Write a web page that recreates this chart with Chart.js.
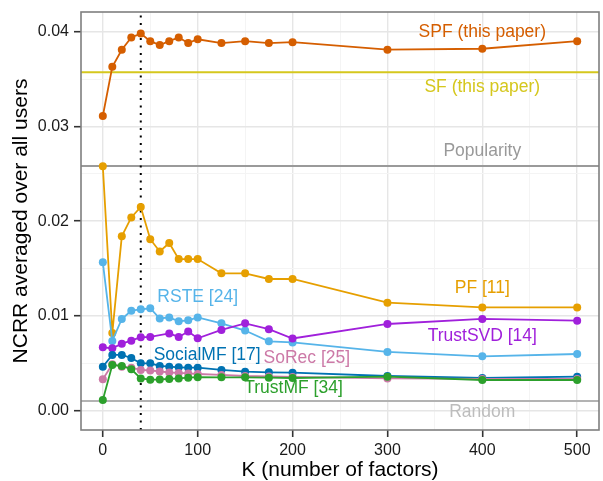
<!DOCTYPE html>
<html>
<head>
<meta charset="utf-8">
<script src="https://cdn.jsdelivr.net/npm/chart.js@4.4.0/dist/chart.umd.min.js"></script>
<style>
  html, body { margin: 0; padding: 0; background: #fff; }
  #wrap { width: 603px; height: 481px; }
</style>
</head>
<body>
<div id="wrap"><canvas id="ncrr-chart"></canvas></div>
<script>
// number of factors K
const kValues = [0, 10, 20, 30, 40, 50, 60, 70, 80, 90, 100, 125, 150, 175, 200, 300, 400, 500];

// NCRR averaged over all users, per method
const spf = [0.0311, 0.0363, 0.0381, 0.0394, 0.0398, 0.0390, 0.0386, 0.0390, 0.0394, 0.0388, 0.0392, 0.0388, 0.0390, 0.0388, 0.0389, 0.0381, 0.0382, 0.0390];
const pf = [0.0258, 0.0082, 0.0184, 0.0204, 0.0215, 0.0181, 0.0168, 0.0177, 0.0160, 0.0160, 0.0160, 0.0145, 0.0145, 0.0139, 0.0139, 0.0114, 0.0109, 0.0109];
const rste = [0.01566, 0.00736, 0.00968, 0.01055, 0.0107, 0.01081, 0.00973, 0.00984, 0.00944, 0.00954, 0.00984, 0.00922, 0.00846, 0.00732, 0.0072, 0.0062, 0.00574, 0.00598];
const trustSvd = [0.00669, 0.00659, 0.00707, 0.00739, 0.00775, 0.00778, null, 0.00815, 0.00778, 0.00836, 0.00764, 0.00852, 0.00922, 0.0086, 0.00762, 0.00915, 0.00968, 0.0095];
const socialMf = [0.00464, 0.00588, 0.00588, 0.00556, 0.005, 0.005, 0.00472, 0.00464, 0.00458, 0.00454, 0.00454, 0.0043, 0.00412, 0.00405, 0.00401, 0.00366, 0.00345, 0.00359];
const soRec = [0.00331, 0.0049, 0.00464, 0.00454, 0.0043, 0.00424, 0.00414, 0.00403, 0.00398, 0.00393, 0.00387, 0.00377, 0.00366, 0.00361, 0.00356, 0.0034, 0.00335, 0.00335];
const trustMf = [0.00113, 0.00482, 0.00472, 0.00437, 0.0034, 0.00327, 0.00329, 0.00335, 0.0034, 0.00348, 0.00354, 0.00352, 0.00352, 0.00348, 0.00345, 0.00359, 0.00324, 0.00324];

// flat baselines (no K dependence)
const sfLevel = 0.03572;
const popularityLevel = 0.02583;
const randomLevel = 0.00102;
const chosenK = 40;

// axis ticks
const xTicks = [0, 100, 200, 300, 400, 500];
const xTickLabels = ['0', '100', '200', '300', '400', '500'];
const yTicks = [0, 0.01, 0.02, 0.03, 0.04];
const yTickLabels = ['0.00', '0.01', '0.02', '0.03', '0.04'];

// text next to each line (K, value)
const lineLabels = [
  { text: 'SPF (this paper)', k: 400, value: 0.0400, color: '#d55e00' },
  { text: 'SF (this paper)', k: 400, value: 0.0341, color: '#d5c71d' },
  { text: 'Popularity', k: 400, value: 0.0274, color: '#999999' },
  { text: 'PF [11]', k: 400, value: 0.0129, color: '#e69f00' },
  { text: 'TrustSVD [14]', k: 400, value: 0.0079, color: '#a020db' },
  { text: 'RSTE [24]', k: 100, value: 0.0120, color: '#56b4e9' },
  { text: 'SocialMF [17]', k: 110, value: 0.0059, color: '#0072b2' },
  { text: 'SoRec [25]', k: 215, value: 0.0055, color: '#cc79a7' },
  { text: 'TrustMF [34]', k: 201, value: 0.0024, color: '#2ca02c' },
  { text: 'Random', k: 400, value: -0.0002, color: '#bdbdbd' },
];

const xMin = -23, xMax = 523;
const yMin = -0.00204, yMax = 0.04208;
const FONT = '"Liberation Sans", Arial, Helvetica, sans-serif';

function points(values) {
  return kValues.map((k, i) => ({ x: k, y: values[i] }));
}

function flat(level) {
  return [{ x: xMin, y: level }, { x: xMax, y: level }];
}

function withMinor(major) {
  const out = [];
  major.forEach((v, i) => {
    out.push({ value: v, minor: false });
    if (i < major.length - 1) out.push({ value: (v + major[i + 1]) / 2, minor: true });
  });
  return out;
}

function tickLabel(value, ticks, labels) {
  const i = ticks.findIndex((t) => Math.abs(t - value) < 1e-9);
  return i >= 0 ? labels[i] : '';
}

function series(label, values, color, order) {
  return {
    label: label,
    data: points(values),
    borderColor: color,
    backgroundColor: color,
    borderWidth: 1.8,
    pointRadius: 4,
    pointBorderWidth: 0,
    spanGaps: true,
    order: order,
  };
}

function refLine(label, level, color, order) {
  return {
    label: label,
    data: flat(level),
    borderColor: color,
    borderWidth: 2,
    pointRadius: 0,
    order: order,
  };
}

const gridOptions = {
  color: (c) => (c.tick && c.tick.minor ? '#f4f4f4' : '#e6e6e6'),
  lineWidth: (c) => (c.tick && c.tick.minor ? 1 : 1.4),
  tickColor: (c) => (c.tick && c.tick.minor ? 'rgba(0,0,0,0)' : '#333333'),
  tickWidth: 1.6,
  tickLength: 7,
};

const panelPlugin = {
  id: 'panel',
  afterDatasetsDraw(chart) {
    const { ctx, chartArea: a, scales } = chart;
    ctx.save();
    ctx.font = '17.5px ' + FONT;
    ctx.textAlign = 'center';
    ctx.textBaseline = 'middle';
    lineLabels.forEach((l) => {
      ctx.fillStyle = l.color;
      ctx.fillText(l.text, scales.x.getPixelForValue(l.k), scales.y.getPixelForValue(l.value));
    });
    ctx.strokeStyle = '#7f7f7f';
    ctx.lineWidth = 1.6;
    ctx.strokeRect(a.left, a.top, a.width, a.height);
    ctx.restore();
  },
};

const canvas = document.getElementById('ncrr-chart');
new Chart(canvas.getContext('2d'), {
  type: 'line',
  data: {
    datasets: [
      series('TrustMF [34]', trustMf, '#2ca02c', 0),
      series('SoRec [25]', soRec, '#cc79a7', 1),
      series('SocialMF [17]', socialMf, '#0072b2', 2),
      series('TrustSVD [14]', trustSvd, '#a020db', 3),
      series('RSTE [24]', rste, '#56b4e9', 4),
      series('PF [11]', pf, '#e69f00', 5),
      series('SPF (this paper)', spf, '#d55e00', 6),
      {
        label: 'K chosen',
        data: [{ x: chosenK, y: yMin }, { x: chosenK, y: yMax }],
        borderColor: '#000000',
        borderWidth: 2,
        borderDash: [2, 5.5],
        pointRadius: 0,
        order: 7,
      },
      refLine('SF (this paper)', sfLevel, '#d5c71d', 8),
      refLine('Popularity', popularityLevel, '#9a9a9a', 9),
      refLine('Random', randomLevel, '#b3b3b3', 10),
    ],
  },
  options: {
    responsive: true,
    maintainAspectRatio: false,
    animation: false,
    layout: { padding: { top: 12, left: 0, right: 0, bottom: 0 } },
    plugins: { legend: { display: false }, tooltip: { enabled: false } },
    scales: {
      x: {
        type: 'linear',
        min: xMin,
        max: xMax,
        afterBuildTicks: (scale) => { scale.ticks = withMinor(xTicks); },
        afterFit: (scale) => {
          scale.height = 51;
          scale.paddingLeft = 0;
          scale.paddingRight = 0;
        },
        ticks: {
          autoSkip: false,
          maxRotation: 0,
          padding: 4,
          color: '#1a1a1a',
          font: { family: FONT, size: 16 },
          callback: (v) => tickLabel(v, xTicks, xTickLabels),
        },
        grid: gridOptions,
        border: { display: false },
        title: {
          display: true,
          text: 'K (number of factors)',
          color: '#000000',
          font: { family: FONT, size: 21, lineHeight: 1 },
          padding: { top: 0, bottom: 0 },
        },
      },
      y: {
        type: 'linear',
        min: yMin,
        max: yMax,
        afterBuildTicks: (scale) => { scale.ticks = withMinor(yTicks); },
        afterFit: (scale) => {
          scale.width = 81;
          scale.paddingTop = 0;
          scale.paddingBottom = 0;
        },
        ticks: {
          autoSkip: false,
          padding: 5,
          color: '#1a1a1a',
          font: { family: FONT, size: 16 },
          callback: (v) => tickLabel(v, yTicks, yTickLabels),
        },
        grid: gridOptions,
        border: { display: false },
        title: {
          display: true,
          text: 'NCRR averaged over all users',
          color: '#000000',
          font: { family: FONT, size: 21, lineHeight: 1 },
          padding: { top: 11, bottom: 0 },
        },
      },
    },
  },
  plugins: [panelPlugin],
});
</script>
</body>
</html>
